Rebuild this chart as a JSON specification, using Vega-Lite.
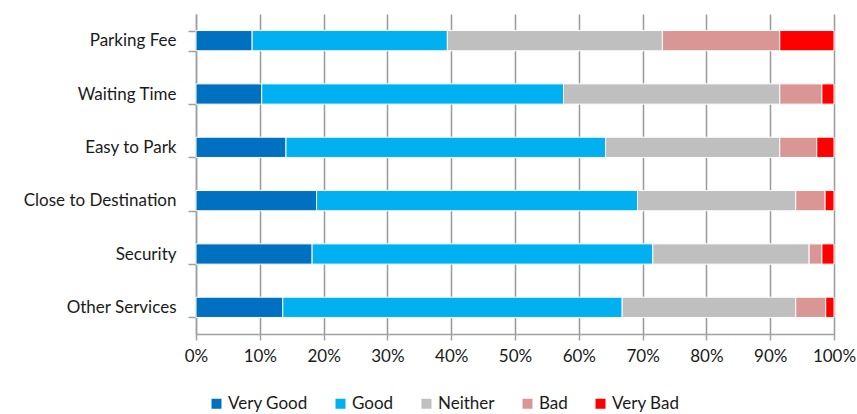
{
  "$schema": "https://vega.github.io/schema/vega-lite/v6.json",
  "autosize": {"type": "none"},
  "padding": {"left": 196, "top": 14, "right": 23, "bottom": 80},
  "width": 638,
  "height": 320,
  "background": "white",
  "config": {
    "font": "Lato",
    "view": {"stroke": null},
    "axis": {"labelFont": "Lato", "labelColor": "#1a1a1a", "labelFontSize": 17}
  },
  "data": {
    "values": [
      {"item": "Parking Fee", "rating": "Very Good", "rank": 1, "value": 8.8},
      {"item": "Parking Fee", "rating": "Good", "rank": 2, "value": 30.6},
      {"item": "Parking Fee", "rating": "Neither", "rank": 3, "value": 33.7},
      {"item": "Parking Fee", "rating": "Bad", "rank": 4, "value": 18.4},
      {"item": "Parking Fee", "rating": "Very Bad", "rank": 5, "value": 8.5},
      {"item": "Waiting Time", "rating": "Very Good", "rank": 1, "value": 10.3},
      {"item": "Waiting Time", "rating": "Good", "rank": 2, "value": 47.3},
      {"item": "Waiting Time", "rating": "Neither", "rank": 3, "value": 33.9},
      {"item": "Waiting Time", "rating": "Bad", "rank": 4, "value": 6.6},
      {"item": "Waiting Time", "rating": "Very Bad", "rank": 5, "value": 1.9},
      {"item": "Easy to  Park", "rating": "Very Good", "rank": 1, "value": 14.1},
      {"item": "Easy to  Park", "rating": "Good", "rank": 2, "value": 50.1},
      {"item": "Easy to  Park", "rating": "Neither", "rank": 3, "value": 27.3},
      {"item": "Easy to  Park", "rating": "Bad", "rank": 4, "value": 5.8},
      {"item": "Easy to  Park", "rating": "Very Bad", "rank": 5, "value": 2.7},
      {"item": "Close to  Destination", "rating": "Very Good", "rank": 1, "value": 18.9},
      {"item": "Close to  Destination", "rating": "Good", "rank": 2, "value": 50.3},
      {"item": "Close to  Destination", "rating": "Neither", "rank": 3, "value": 24.8},
      {"item": "Close to  Destination", "rating": "Bad", "rank": 4, "value": 4.6},
      {"item": "Close to  Destination", "rating": "Very Bad", "rank": 5, "value": 1.4},
      {"item": "Security", "rating": "Very Good", "rank": 1, "value": 18.2},
      {"item": "Security", "rating": "Good", "rank": 2, "value": 53.4},
      {"item": "Security", "rating": "Neither", "rank": 3, "value": 24.5},
      {"item": "Security", "rating": "Bad", "rank": 4, "value": 2.0},
      {"item": "Security", "rating": "Very Bad", "rank": 5, "value": 1.9},
      {"item": "Other Services", "rating": "Very Good", "rank": 1, "value": 13.6},
      {"item": "Other Services", "rating": "Good", "rank": 2, "value": 53.2},
      {"item": "Other Services", "rating": "Neither", "rank": 3, "value": 27.2},
      {"item": "Other Services", "rating": "Bad", "rank": 4, "value": 4.7},
      {"item": "Other Services", "rating": "Very Bad", "rank": 5, "value": 1.3}
    ]
  },
  "mark": {"type": "bar", "stroke": "white", "strokeWidth": 1},
  "encoding": {
    "y": {
      "field": "item",
      "type": "nominal",
      "sort": null,
      "title": null,
      "scale": {"paddingInner": 0.62, "paddingOuter": 0.31},
      "axis": {
        "tickBand": "extent",
        "tickSize": 8,
        "tickColor": "#a0a0a0",
        "tickWidth": 1.5,
        "domainColor": "#a0a0a0",
        "domainWidth": 1.5,
        "labelPadding": 12,
        "grid": false
      }
    },
    "x": {
      "field": "value",
      "type": "quantitative",
      "stack": "normalize",
      "title": null,
      "scale": {"domain": [0, 1], "nice": false},
      "axis": {
        "values": [0, 0.1, 0.2, 0.3, 0.4, 0.5, 0.6, 0.7, 0.8, 0.9, 1],
        "format": ".0%",
        "labelFlush": false,
        "labelOverlap": false,
        "grid": true,
        "gridColor": "#999999",
        "gridWidth": 1.5,
        "tickSize": 6,
        "tickColor": "#a0a0a0",
        "tickWidth": 1.5,
        "domainColor": "#a0a0a0",
        "domainWidth": 1.5,
        "labelPadding": 8
      }
    },
    "order": {"field": "rank", "type": "quantitative"},
    "color": {
      "field": "rating",
      "type": "nominal",
      "sort": ["Very Good", "Good", "Neither", "Bad", "Very Bad"],
      "scale": {
        "domain": ["Very Good", "Good", "Neither", "Bad", "Very Bad"],
        "range": ["#0070C0", "#00B0F0", "#BFBFBF", "#D99694", "#FF0000"]
      },
      "legend": {
        "title": null,
        "orient": "none",
        "direction": "horizontal",
        "legendX": 12,
        "legendY": 381,
        "symbolType": "square",
        "symbolSize": 100,
        "symbolStrokeWidth": 0,
        "labelFontSize": 17,
        "labelFont": "Lato",
        "labelColor": "#1a1a1a",
        "labelOffset": 3,
        "columnPadding": 24
      }
    }
  }
}
